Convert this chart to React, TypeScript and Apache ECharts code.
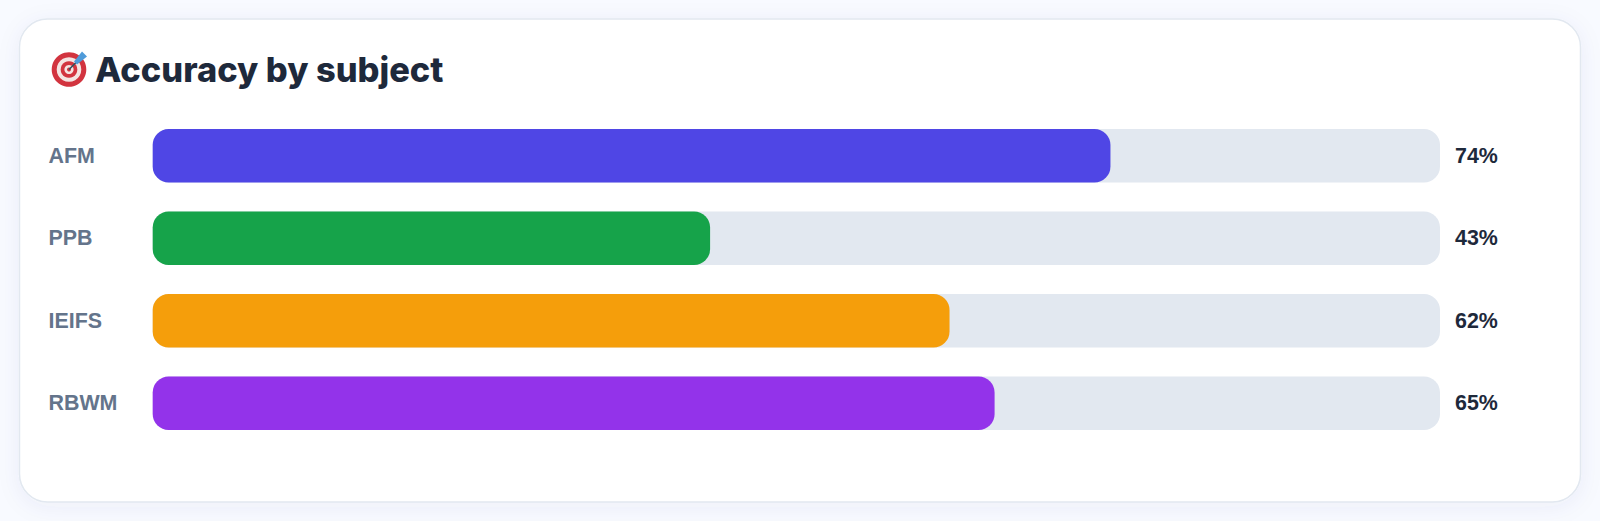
import React, { useEffect, useRef } from "react";
import * as echarts from "echarts";

const categories = ["AFM", "PPB", "IEIFS", "RBWM"];
const values = [74.4, 43.3, 61.9, 65.4];
const valueLabels = ["74%", "43%", "62%", "65%"];
const colors = ["#4f46e5", "#16a34a", "#f59e0b", "#9333ea"];
const titleText = "Accuracy by subject";

export default function App() {
  const ref = useRef<HTMLDivElement>(null);
  useEffect(() => {
    document.body.style.margin = "0";
    document.body.style.background = "#f8faff";
    const chart = echarts.init(ref.current!, null, { renderer: "svg" });
    chart.setOption({
      animation: false,
      backgroundColor: "transparent",
      graphic: [
        {
          type: "rect",
          z: -10,
          shape: { x: 19.5, y: 19, width: 1561, height: 483, r: 28 },
          style: {
            fill: "#ffffff",
            stroke: "#e2e8f0",
            lineWidth: 1.5,
            shadowBlur: 22,
            shadowColor: "rgba(71,85,140,0.06)",
            shadowOffsetY: 4,
          },
        },
        {
          type: "group",
          x: 69,
          y: 69.5,
          children: [
            { type: "circle", shape: { cx: 0, cy: 0, r: 17.3 }, style: { fill: "#d2343f" } },
            { type: "circle", shape: { cx: 0, cy: 0, r: 12.3 }, style: { fill: "#f4e4e2" } },
            { type: "circle", shape: { cx: 0, cy: 0, r: 8.3 }, style: { fill: "#d2343f" } },
            { type: "circle", shape: { cx: 0, cy: 0, r: 4.6 }, style: { fill: "#f4e4e2" } },
            { type: "circle", shape: { cx: 0, cy: 0, r: 2 }, style: { fill: "#d2343f" } },
            { type: "line", shape: { x1: 0, y1: 0, x2: 11, y2: -11 }, style: { stroke: "#33505f", lineWidth: 1.6 } },
            { type: "polygon", shape: { points: [[5, -8], [13, -18], [18, -13], [8, -5]] }, style: { fill: "#4f9bd9" } },
          ],
        },
        {
          type: "text",
          x: 95,
          y: 69.5,
          style: {
            text: titleText,
            fill: "#1e293b",
            font: "800 34.4px Inter",
            textVerticalAlign: "middle",
          },
        },
      ],
      grid: { left: 152.7, width: 1287.3, top: 114.5, height: 330 },
      xAxis: { type: "value", min: 0, max: 100, show: false },
      yAxis: [
        {
          type: "category",
          data: categories,
          inverse: true,
          axisLine: { show: false },
          axisTick: { show: false },
          axisLabel: {
            align: "left",
            margin: 104.2,
            padding: [0, 0, 2, 0],
            color: "#64748b",
            fontFamily: "Liberation Sans",
            fontWeight: "bold",
            fontSize: 21.4,
          },
        },
        {
          type: "category",
          position: "right",
          data: valueLabels,
          inverse: true,
          axisLine: { show: false },
          axisTick: { show: false },
          axisLabel: {
            margin: 15,
            padding: [0, 0, 2, 0],
            color: "#1e293b",
            fontFamily: "Liberation Sans",
            fontWeight: "bold",
            fontSize: 21.4,
          },
        },
      ],
      series: [
        {
          type: "bar",
          yAxisIndex: 0,
          barWidth: 53.5,
          showBackground: true,
          backgroundStyle: { color: "#e2e8f0", borderRadius: 16 },
          data: values.map((v, i) => ({
            value: v,
            itemStyle: { color: colors[i], borderRadius: 16 },
          })),
        },
      ],
    });
    return () => chart.dispose();
  }, []);
  return <div ref={ref} style={{ width: 1600, height: 521 }} />;
}
